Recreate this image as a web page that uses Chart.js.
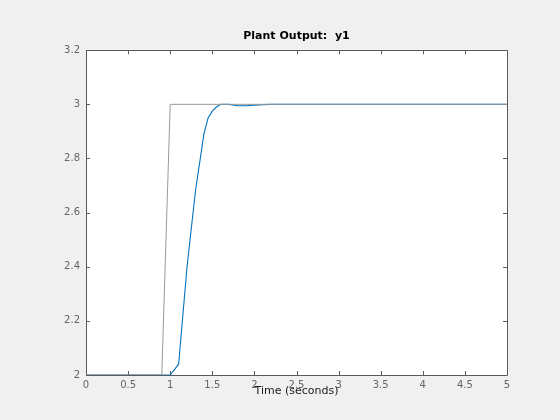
<!DOCTYPE html>
<html>
<head>
<meta charset="utf-8">
<script src="https://cdn.jsdelivr.net/npm/chart.js"></script>
<style>
  html, body { margin: 0; padding: 0; background: #f0f0f0; }
  canvas { display: block; }
</style>
</head>
<body>
<canvas id="myChart" width="560" height="420"></canvas>
<script>
// reference input (gray) and plant output y1 (blue)
var refTime = [0, 0.9, 1.0, 5];
var refValues = [2, 2, 3, 3];
var outTime = [0, 1.0, 1.1, 1.2, 1.3, 1.4, 1.45, 1.5, 1.55, 1.6, 1.7, 1.8, 1.9, 2.0, 2.1, 2.2, 5];
var outValues = [2, 2, 2.04, 2.4, 2.68, 2.89, 2.95, 2.975, 2.99, 3.0, 3.0, 2.995, 2.995, 2.997, 2.999, 3.0, 3.0];
var xTicks = [0, 0.5, 1, 1.5, 2, 2.5, 3, 3.5, 4, 4.5, 5];
var yTicks = [2, 2.2, 2.4, 2.6, 2.8, 3, 3.2];

function pts(xs, ys) {
  return xs.map(function (x, i) { return { x: x, y: ys[i] }; });
}

var axisColor = '#5a5a5a';

// white plot area + box with inward ticks, like a matlab axes
var boxPlugin = {
  id: 'box',
  beforeDatasetsDraw: function (chart) {
    var c = chart.ctx, a = chart.chartArea;
    var sx = chart.scales.x, sy = chart.scales.y;
    c.save();
    c.strokeStyle = axisColor;
    c.lineWidth = 1;
    c.beginPath();
    c.rect(Math.round(a.left) + 0.5, Math.round(a.top) + 0.5,
           Math.round(a.right - a.left), Math.round(a.bottom - a.top));
    var tl = 4;
    xTicks.forEach(function (v) {
      var px = Math.round(sx.getPixelForValue(v)) + 0.5;
      c.moveTo(px, a.bottom); c.lineTo(px, a.bottom - tl);
      c.moveTo(px, a.top); c.lineTo(px, a.top + tl);
    });
    yTicks.forEach(function (v) {
      var py = Math.round(sy.getPixelForValue(v)) + 0.5;
      c.moveTo(a.left, py); c.lineTo(a.left + tl, py);
      c.moveTo(a.right, py); c.lineTo(a.right - tl, py);
    });
    c.stroke();
    c.restore();
  },
  beforeDraw: function (chart) {
    var c = chart.ctx, a = chart.chartArea;
    c.save();
    c.fillStyle = '#f0f0f0';
    c.fillRect(0, 0, chart.width, chart.height);
    c.fillStyle = '#ffffff';
    c.fillRect(a.left, a.top, a.right - a.left, a.bottom - a.top);
    c.restore();
  }
};

var ctx = document.getElementById('myChart').getContext('2d');
var myChart = new Chart(ctx, {
  type: 'line',
  data: {
    datasets: [{
      label: 'Reference',
      data: pts(refTime, refValues),
      borderColor: '#9a9a9a',
      borderWidth: 1,
      pointRadius: 0,
      tension: 0
    }, {
      label: 'y1',
      data: pts(outTime, outValues),
      borderColor: '#0072bd',
      borderWidth: 1.1,
      pointRadius: 0,
      tension: 0
    }]
  },
  plugins: [boxPlugin],
  options: {
    responsive: false,
    animation: false,
    devicePixelRatio: 1,
    layout: { padding: { left: 0, right: 53, top: 0, bottom: 0 } },
    plugins: {
      legend: { display: false },
      tooltip: { enabled: false },
      title: {
        display: true,
        text: 'Plant Output:  y1',
        fullSize: false,
        color: '#000000',
        font: { family: 'DejaVu Sans', size: 11, weight: 'bold' },
        padding: { top: 30, bottom: 7 }
      }
    },
    scales: {
      x: {
        type: 'linear',
        min: 0,
        max: 5,
        grid: { display: false, drawTicks: false },
        border: { display: false },
        afterBuildTicks: function (s) { s.ticks = xTicks.map(function (v) { return { value: v }; }); },
        afterFit: function (s) { s.height = 45; },
        ticks: {
          color: '#666666',
          padding: 4,
          maxRotation: 0,
          autoSkip: false,
          font: { family: 'DejaVu Sans', size: 10 },
          callback: function (v) { return String(v); }
        },
        title: {
          display: true,
          text: 'Time (seconds)',
          color: '#1a1a1a',
          font: { family: 'DejaVu Sans', size: 11 },
          padding: { top: 0, bottom: 22 }
        }
      },
      y: {
        type: 'linear',
        min: 2,
        max: 3.2,
        grid: { display: false, drawTicks: false },
        border: { display: false },
        afterBuildTicks: function (s) { s.ticks = yTicks.map(function (v) { return { value: v }; }); },
        afterFit: function (s) { s.width = 86; },
        ticks: {
          color: '#666666',
          padding: 6,
          autoSkip: false,
          font: { family: 'DejaVu Sans', size: 10 },
          callback: function (v) { return String(v); }
        }
      }
    }
  }
});
</script>
</body>
</html>
